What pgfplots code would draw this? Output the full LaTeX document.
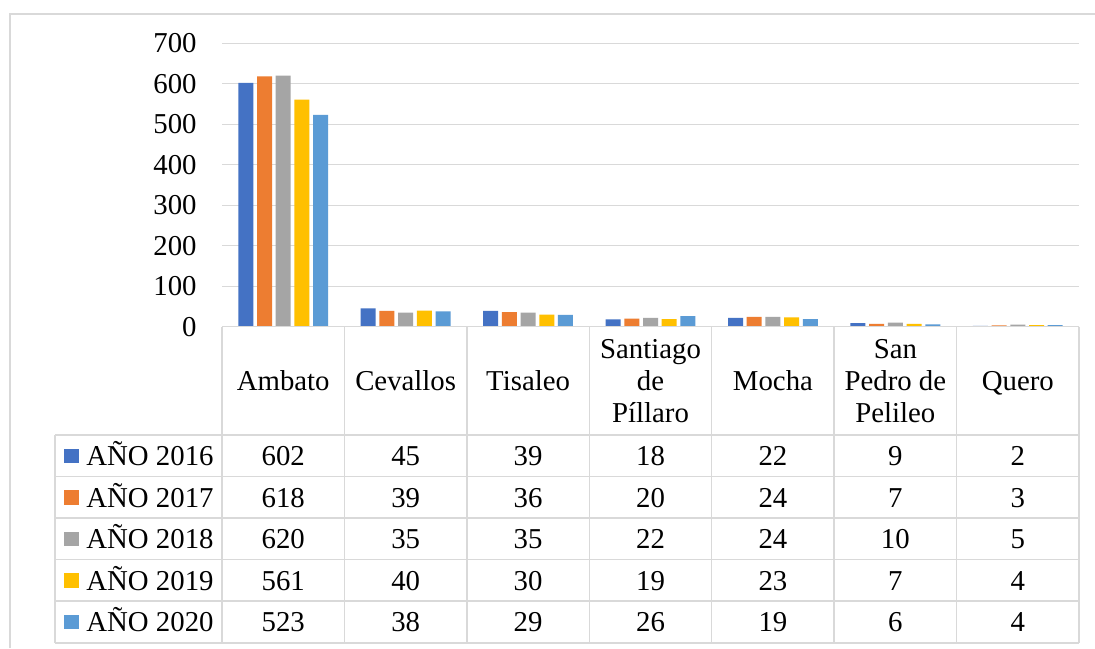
\documentclass[border=0pt]{standalone}
\usepackage{pgfplots}
\pgfplotsset{compat=1.18}
\usepackage{pgfplotstable}
\usepackage{fontspec}
\setmainfont{Liberation Serif}

\definecolor{c16}{HTML}{4472C4}
\definecolor{c17}{HTML}{ED7D31}
\definecolor{c18}{HTML}{A5A5A5}
\definecolor{c19}{HTML}{FFC000}
\definecolor{c20}{HTML}{5B9BD5}
\definecolor{rule}{HTML}{D9D9D9}

% cases per canton and year
\pgfplotstableread{
x y2016 y2017 y2018 y2019 y2020
0 602 618 620 561 523
1 45  39  35  40  38
2 39  36  35  30  29
3 18  20  22  19  26
4 22  24  24  23  19
5 9   7   10  7   6
6 2   3   5   4   4
}\visits

\begin{document}
\begin{tikzpicture}[x=0.5pt,y=0.5pt,font=\fontsize{14.4}{16}\selectfont]
\useasboundingbox (0,0) rectangle (1095,648);
\fill[white] (0,0) rectangle (1095,648);
% chart frame
\draw[rule, line width=0.7pt] (10,0) -- (10,634) -- (1095,634);

\begin{axis}[
  at={(111pt,160.65pt)}, anchor=south west,
  scale only axis, width=428.5pt, height=141.7pt,
  xmin=-0.5, xmax=6.5, ymin=0, ymax=700,
  ytick={0,100,...,700}, xtick=\empty,
  axis line style={draw=none},
  major tick length=0pt,
  ymajorgrids, grid style={rule, line width=0.65pt},
  yticklabel style={anchor=east, inner sep=0pt, xshift=-12.5pt},
  /pgf/number format/assume math mode=true,
  tick label style={font=\fontsize{14.4}{16}\selectfont},
  clip=false,
]
\addplot[ybar, bar width=0.1225, bar shift=-0.3056, fill=c16, draw=none] table[x=x,y=y2016]{\visits};
\addplot[ybar, bar width=0.1225, bar shift=-0.1528, fill=c17, draw=none] table[x=x,y=y2017]{\visits};
\addplot[ybar, bar width=0.1225, bar shift=0,       fill=c18, draw=none] table[x=x,y=y2018]{\visits};
\addplot[ybar, bar width=0.1225, bar shift=0.1528,  fill=c19, draw=none] table[x=x,y=y2019]{\visits};
\addplot[ybar, bar width=0.1225, bar shift=0.3056,  fill=c20, draw=none] table[x=x,y=y2020]{\visits};
\end{axis}

% data table grid
\begin{scope}[rule, line width=0.75pt]
\draw (222,321.3) -- (1079,321.3);
\foreach \yy in {213,171.45,129.9,88.35,46.8,5.25}
  \draw (55,\yy) -- (1079,\yy);
\draw (55,213) -- (55,5.25);
\foreach \xx in {222,344.43,466.86,589.29,711.71,834.14,956.57,1079}
  \draw (\xx,321.3) -- (\xx,5.25);
\end{scope}

% category names
\foreach \c/\name in {0/Ambato,1/Cevallos,2/Tisaleo,4/Mocha,6/Quero}
  \node[anchor=base, inner sep=0pt] at ({222+122.43*(\c+0.5)},257.5) {\name};
\foreach \c/\la/\lb/\lc in {3/Santiago/de/Píllaro,5/San/Pedro de/Pelileo}{
  \node[anchor=base, inner sep=0pt] at ({222+122.43*(\c+0.5)},289.5) {\la};
  \node[anchor=base, inner sep=0pt] at ({222+122.43*(\c+0.5)},257.5) {\lb};
  \node[anchor=base, inner sep=0pt] at ({222+122.43*(\c+0.5)},225.5) {\lc};
}

% series rows: key, name and values
\foreach \r/\col/\clr/\yr in {0/y2016/c16/2016,1/y2017/c17/2017,2/y2018/c18/2018,3/y2019/c19/2019,4/y2020/c20/2020}{
  \fill[\clr] (64,{192.2-41.55*\r-7.25}) rectangle (78.5,{192.2-41.55*\r+7.25});
  \node[anchor=base west, inner sep=0pt] at (86,{182.5-41.55*\r}) {AÑO \yr};
  \foreach \c in {0,...,6}{
    \pgfplotstablegetelem{\c}{\col}\of\visits
    \node[anchor=base, inner sep=0pt] at ({222+122.43*(\c+0.5)},{182.5-41.55*\r}) {\pgfplotsretval};
  }
}
\end{tikzpicture}
\end{document}
